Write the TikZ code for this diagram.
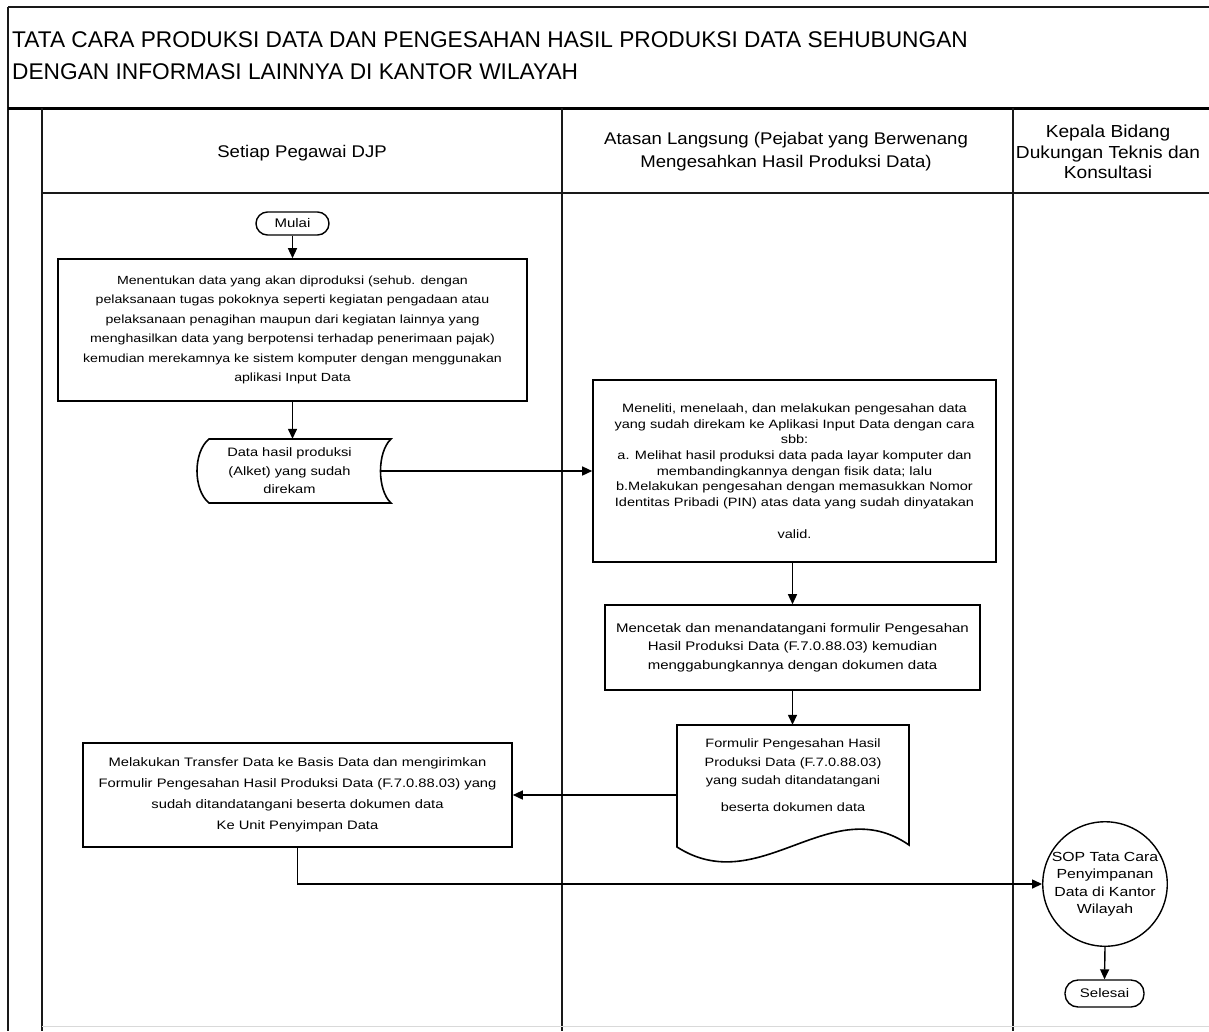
\documentclass[tikz,border=0pt]{standalone}
\usepackage{fontspec}
\setmainfont{Liberation Sans}
\newfontfamily\bxf[FakeStretch=1.2]{Liberation Sans}
\newfontfamily\hdf[FakeStretch=1.1]{Liberation Sans}
\usetikzlibrary{arrows.meta,calc}
\begin{document}
\begin{tikzpicture}[x=1pt,y=-1pt,
  frameline/.style={line width=2pt,black!90},
  procbox/.style={draw,line width=1.6pt,align=center,inner sep=0pt,fill=white},
  termbox/.style={draw,line width=1.4pt,inner sep=0pt,fill=white,font=\bxf\fontsize{12.5}{15}\selectfont},
  conn/.style={line width=1.4pt,-{Triangle[length=10pt,width=9pt]}},
  shapeline/.style={draw,line width=1.6pt,fill=white},
  hdtext/.style={align=center,inner sep=0pt,font=\hdf\fontsize{16.9}{23}\selectfont}
]
\useasboundingbox (0,0) rectangle (1209,1031);
\fill[white] (0,0) rectangle (1209,1031);

% frame and lanes
\draw[frameline] (8,7) -- (1209,7);
\draw[frameline] (8,7) -- (8,1031);
\draw[line width=3pt] (8,108) -- (1209,108);
\draw[frameline] (42,108) -- (42,1031);
\draw[frameline] (562,108) -- (562,1031);
\draw[frameline] (1013,108) -- (1013,1031);
\draw[frameline] (42,193) -- (1209,193);
\draw[black!15,line width=1pt] (42,1026) -- (1209,1026);

% title
\node[anchor=west,align=left,inner sep=0pt,font=\fontsize{22.7}{32}\selectfont] (title) at (12,56)
 {TATA CARA PRODUKSI DATA DAN PENGESAHAN HASIL PRODUKSI DATA SEHUBUNGAN\\DENGAN INFORMASI LAINNYA DI KANTOR WILAYAH};

% lane headers
\node[hdtext] (h1) at (302,153) {Setiap Pegawai DJP};
\node[hdtext] (h2) at (786,152) {Atasan Langsung (Pejabat yang Berwenang\\Mengesahkan Hasil Produksi Data)};
\node[hdtext,font=\hdf\fontsize{17.4}{20.5}\selectfont] (h3) at (1108,152) {Kepala Bidang\\Dukungan Teknis dan\\Konsultasi};

% nodes lane 1
\node[termbox,rounded corners=11.5pt,minimum width=73pt,minimum height=23pt] (mulai) at (292.5,223.5) {Mulai};

\node[procbox,minimum width=469pt,minimum height=142pt,font=\bxf\fontsize{11.8}{19.4}\selectfont] (b1) at (292.5,330)
 {Menentukan data yang akan diproduksi (sehub. dengan\\
  pelaksanaan tugas pokoknya seperti kegiatan pengadaan atau\\
  pelaksanaan penagihan maupun dari kegiatan lainnya yang\\
  menghasilkan data yang berpotensi terhadap penerimaan pajak)\\
  kemudian merekamnya ke sistem komputer dengan menggunakan\\
  aplikasi Input Data};

\draw[shapeline] (209,439) -- (391,439) .. controls (377,452) and (377,490) .. (391,503)
  -- (209,503) .. controls (193,490) and (193,452) .. (209,439) -- cycle;
\node[align=center,inner sep=0pt,minimum width=182pt,minimum height=64pt,font=\bxf\fontsize{12.2}{18.5}\selectfont] (data) at (289.5,471)
 {Data hasil produksi\\(Alket) yang sudah\\direkam};

\node[procbox,minimum width=429pt,minimum height=104pt,font=\bxf\fontsize{12.3}{21}\selectfont] (b4) at (297.5,795)
 {Melakukan Transfer Data ke Basis Data dan mengirimkan\\
  Formulir Pengesahan Hasil Produksi Data (F.7.0.88.03) yang\\
  sudah ditandatangani beserta dokumen data\\
  Ke Unit Penyimpan Data};

% nodes lane 2
\node[procbox,minimum width=403pt,minimum height=182pt,font=\bxf\fontsize{12.1}{15.7}\selectfont] (b2) at (794.5,471)
 {Meneliti, menelaah, dan melakukan pengesahan data\\
  yang sudah direkam ke Aplikasi Input Data dengan cara\\
  sbb:\\
  a. Melihat hasil produksi data pada layar komputer dan\\
  membandingkannya dengan fisik data; lalu\\
  b.Melakukan pengesahan dengan memasukkan Nomor\\
  Identitas Pribadi (PIN) atas data yang sudah dinyatakan\\[16pt]
  valid.};

\node[procbox,minimum width=375pt,minimum height=85pt,font=\bxf\fontsize{12.5}{18.6}\selectfont] (b3) at (792.5,647.5)
 {Mencetak dan menandatangani formulir Pengesahan\\
  Hasil Produksi Data (F.7.0.88.03) kemudian\\
  menggabungkannya dengan dokumen data};

\draw[shapeline] (677,725) -- (909,725) -- (909,845) .. controls (830,790) and (760,900) .. (677,847) -- cycle;
\node[inner sep=0pt,minimum width=232pt,minimum height=122pt] (doc) at (793,786) {};
\node[align=center,inner sep=0pt,font=\bxf\fontsize{12.1}{18.5}\selectfont] (doctext) at (793,775)
 {Formulir Pengesahan Hasil\\Produksi Data (F.7.0.88.03)\\yang sudah ditandatangani\\[8pt]beserta dokumen data};

% nodes lane 3
\node[circle,draw,line width=1.4pt,fill=white,minimum size=124pt,inner sep=0pt,align=center,font=\bxf\fontsize{13.2}{17.5}\selectfont] (sop) at (1105,884)
 {SOP Tata Cara\\Penyimpanan\\Data di Kantor\\Wilayah};
\node[termbox,rounded corners=13pt,minimum width=79pt,minimum height=27pt] (sel) at (1104.5,993.5) {Selesai};

% connectors
\draw[conn] (mulai.south) -- (b1.north);
\draw[conn] (b1.south) -- (b1.south |- data.north);
\draw[conn] (data.east) -- (b2.west |- data.east);
\draw[conn] (b2.south -| b3.north) -- (b3.north);
\draw[conn] (b3.south) -- (b3.south |- doc.north);
\draw[conn] (doc.west |- b4.east) -- (b4.east);
\draw[conn] (b4.south) |- (sop.west);
\draw[conn] (sop.south) -- (sel.north);
\end{tikzpicture}
\end{document}
